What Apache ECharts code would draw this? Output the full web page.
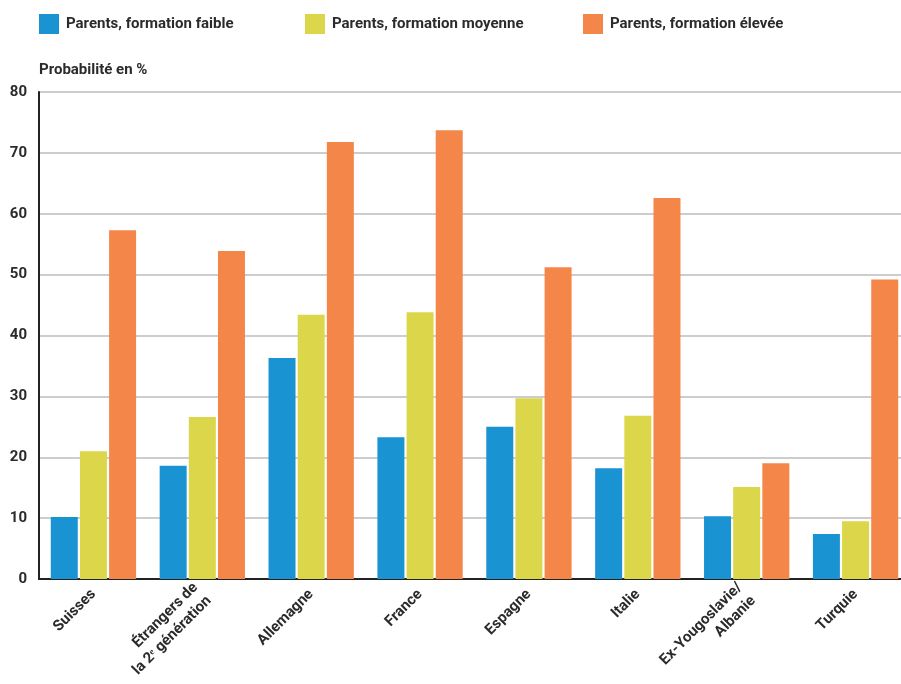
<!DOCTYPE html>
<html>
<head>
<meta charset="utf-8">
<script src="https://cdn.jsdelivr.net/npm/echarts@6/dist/echarts.min.js"></script>
<style>
html,body{margin:0;padding:0;background:#fff;overflow:hidden;}
#chart{width:901px;height:684px;}
</style>
</head>
<body>
<div id="chart"></div>
<script>
const categories = ["Suisses", "Étrangers de\nla 2ᵉ génération", "Allemagne", "France", "Espagne", "Italie", "Ex-Yougoslavie/\nAlbanie", "Turquie"];
const seriesNames = ["Parents, formation faible", "Parents, formation moyenne", "Parents, formation élevée"];
const faible = [10.2, 18.6, 36.3, 23.3, 25.0, 18.2, 10.3, 7.4];
const moyenne = [21.0, 26.6, 43.4, 43.8, 29.7, 26.8, 15.1, 9.5];
const elevee = [57.3, 53.9, 71.8, 73.7, 51.2, 62.6, 19.0, 49.2];
const yTicks = [0, 10, 20, 30, 40, 50, 60, 70, 80];
const colors = ["#1a93d3", "#dbd64a", "#f58649"];
const FONT = "Roboto";

const chart = echarts.init(document.getElementById('chart'), null, {renderer: 'canvas'});
const legendBase = {
  top: 14, itemWidth: 20, itemHeight: 20, icon: 'rect', itemGap: 0,
  textStyle: {fontFamily: FONT, fontWeight: 'bold', fontSize: 15, color: '#2b2b2b', padding: [0, 0, 0, 2]},
  padding: 0, selectedMode: false
};
chart.setOption({
  animation: false,
  color: colors,
  title: {
    text: 'Probabilité en %', left: 39, top: 63, padding: 0,
    textStyle: {fontFamily: FONT, fontWeight: 'bold', fontSize: 15, color: '#2b2b2b'}
  },
  legend: [
    Object.assign({}, legendBase, {left: 39, data: [seriesNames[0]]}),
    Object.assign({}, legendBase, {left: 305, data: [seriesNames[1]]}),
    Object.assign({}, legendBase, {left: 583, data: [seriesNames[2]]})
  ],
  grid: {left: 39, width: 871, top: 92, height: 487, containLabel: false, outerBoundsMode: 'none'},
  xAxis: {
    type: 'category',
    data: categories,
    axisLine: {lineStyle: {color: '#222', width: 2}},
    axisTick: {show: false},
    axisLabel: {
      rotate: 45, interval: 0, margin: 13,
      fontFamily: FONT, fontWeight: 'bold', fontSize: 15, color: '#2b2b2b', lineHeight: 19
    }
  },
  yAxis: {
    type: 'value', min: 0, max: 80, interval: 10,
    axisLine: {show: true, lineStyle: {color: '#222', width: 2}},
    axisTick: {show: false},
    splitLine: {lineStyle: {color: '#bdbdbd', width: 1.5}},
    axisLabel: {
      margin: 12, fontFamily: FONT, fontWeight: 'bold', fontSize: 15, color: '#2b2b2b',
      formatter: v => yTicks.includes(v) ? String(v) : ''
    }
  },
  series: [
    {name: seriesNames[0], type: 'bar', data: faible, barWidth: 27, barGap: '8%'},
    {name: seriesNames[1], type: 'bar', data: moyenne, barWidth: 27, barGap: '8%'},
    {name: seriesNames[2], type: 'bar', data: elevee, barWidth: 27, barGap: '8%'}
  ]
});
</script>
</body>
</html>
